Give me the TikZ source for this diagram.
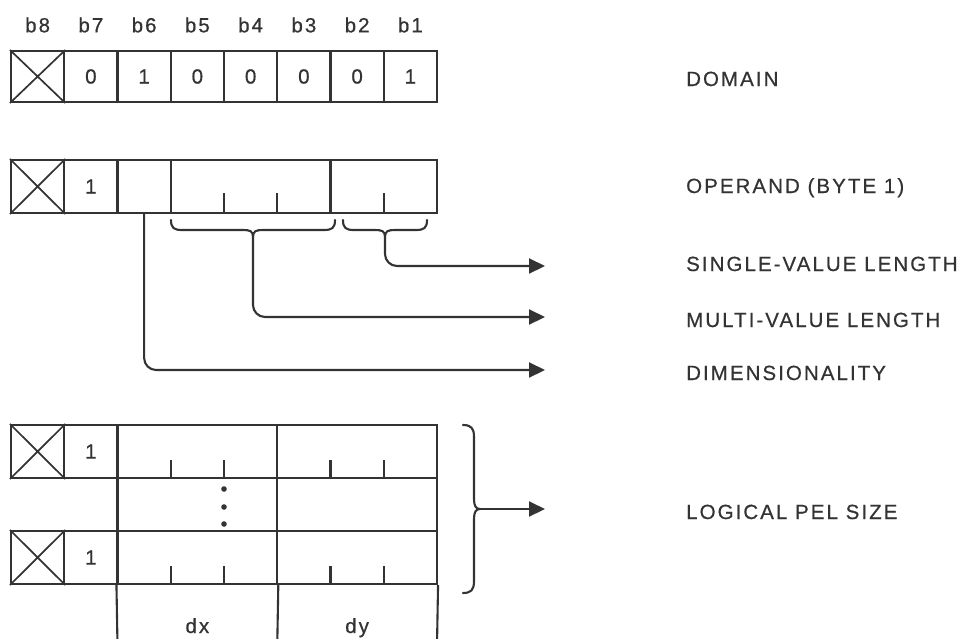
\documentclass[tikz,border=0pt]{standalone}
\usepackage{fontspec}
\setmainfont{Liberation Sans}[LetterSpace=10,FakeBold=0.6]
\usetikzlibrary{arrows.meta}
\definecolor{ink}{HTML}{333333}
\newcommand\lblfont{\fontsize{20.5}{23}\selectfont}
\begin{document}
\begin{tikzpicture}[x=1pt,y=-1pt,
  ln/.style={draw=ink,line width=2.1pt},
  cell/.style={ln,minimum width=53.25pt,minimum height=53pt,inner sep=0pt,font=\lblfont,text=ink},
  lab/.style={font=\lblfont,text=ink,inner sep=0pt},
  tick/.style={ln},
  xline/.style={ln,line width=1.7pt},
  conn/.style={ln,rounded corners=12pt,-{Triangle[length=16pt,width=15pt]}},
  bracepath/.style={ln,line cap=round},
  dot/.style={fill=ink}]
\useasboundingbox (0,0) rectangle (969,638);

% ---- header bit labels
\foreach \i in {1,...,8}{
  \pgfmathtruncatemacro\n{9-\i}
  \node[lab] (h\i) at ({11+53.25*(\i-0.5)},25) {b\n};
}

% ---- DOMAIN row
\foreach \i/\v in {1/{},2/0,3/1,4/0,5/0,6/0,7/0,8/1}{
  \node[cell,minimum height=51pt] (d\i) at ({11+53.25*(\i-0.5)},76.5) {\v};
}

% ---- OPERAND row
\node[cell] (o1) at (37.625,186.5) {};
\node[cell] (o2) at (90.875,186.5) {1};
\node[cell] (o3) at (144.125,186.5) {};
\node[cell,minimum width=159.75pt] (o4) at (250.625,186.5) {};
\node[cell,minimum width=106.5pt] (o5) at (383.75,186.5) {};
\draw[tick] (224,213) -- (224,193);
\draw[tick] (277.25,213) -- (277.25,193);
\draw[tick] (383.75,213) -- (383.75,193);

% ---- braces under operand row
\draw[bracepath] (171,220) .. controls (171,228) and (174,230) .. (182,230) -- (243,230)
   .. controls (250,230) and (253,231) .. (253,237)
   .. controls (253,231) and (256,230) .. (263,230) -- (324,230)
   .. controls (332,230) and (335,228) .. (335,220);
\coordinate (cusM) at (253,237);
\draw[bracepath] (343,220) .. controls (343,228) and (346,230) .. (354,230) -- (375,230)
   .. controls (382,230) and (385,231) .. (385,237)
   .. controls (385,231) and (388,230) .. (395,230) -- (416,230)
   .. controls (424,230) and (427,228) .. (427,220);
\coordinate (cusS) at (385,237);

% ---- bottom block
\node[cell] (p1) at (37.625,451.5) {};
\node[cell] (p2) at (90.875,451.5) {1};
\node[cell,minimum width=159.75pt] (p3) at (197.375,451.5) {};
\node[cell,minimum width=159.75pt] (p4) at (357.125,451.5) {};
\node[cell,minimum width=159.75pt] (q3) at (197.375,504.5) {};
\node[cell,minimum width=159.75pt] (q4) at (357.125,504.5) {};
\node[cell] (r1) at (37.625,557.5) {};
\node[cell] (r2) at (90.875,557.5) {1};
\node[cell,minimum width=159.75pt] (r3) at (197.375,557.5) {};
\node[cell,minimum width=159.75pt] (r4) at (357.125,557.5) {};
\coordinate (e1) at (117.5,645);
\coordinate (e2) at (277.25,645);
\coordinate (e3) at (437,645);
\draw[ln] (r3.south west) -- (e1);
\draw[ln] (r3.south east) -- (e2);
\draw[ln] (r4.south east) -- (e3);
\node[lab,anchor=base] (ldx) at (197.375,633) {dx};
\node[lab,anchor=base] (ldy) at (357.125,633) {dy};
\foreach \x in {170.75,224,330.5,383.75}{
  \draw[tick] (\x,478) -- (\x,460);
  \draw[tick] (\x,584) -- (\x,566);
}
\fill[dot] (224,489) circle (2.8pt);
\fill[dot] (224,507) circle (2.8pt);
\fill[dot] (224,524) circle (2.8pt);

% ---- crosses in b8 cells
\foreach \c in {d1,o1,p1,r1}{
  \draw[xline] (\c.north west) -- (\c.south east) (\c.north east) -- (\c.south west);
}

% ---- right brace
\draw[bracepath] (463,425) .. controls (471,425) and (474,428) .. (474,437) -- (474,499)
   .. controls (474,506) and (476,509) .. (480,509)
   .. controls (476,509) and (474,512) .. (474,519) -- (474,581)
   .. controls (474,590) and (471,593) .. (463,593);
\coordinate (cusL) at (480,509);

% ---- labels
\node[lab,anchor=base west] (tDom) at (686,86) {DOMAIN};
\node[lab,anchor=base west] (tOp) at (686,193) {OPERAND (BYTE 1)};
\node[lab,anchor=base west] (tSV) at (686,271) {SINGLE-VALUE LENGTH};
\node[lab,anchor=base west] (tMV) at (686,327) {MULTI-VALUE LENGTH};
\node[lab,anchor=base west] (tDim) at (686,380) {DIMENSIONALITY};
\node[lab,anchor=base west] (tPel) at (686,519) {LOGICAL PEL SIZE};

% ---- arrow ends
\coordinate (aS) at (545,266);
\coordinate (aM) at (545,317);
\coordinate (aD) at (545,370);
\coordinate (aL) at (545,509);

% ---- connectors
\draw[conn] (cusS) |- (aS);
\draw[conn] (cusM) |- (aM);
\draw[conn] (o3.south) |- (aD);
\draw[conn] (cusL) -- (aL);
\end{tikzpicture}
\end{document}
